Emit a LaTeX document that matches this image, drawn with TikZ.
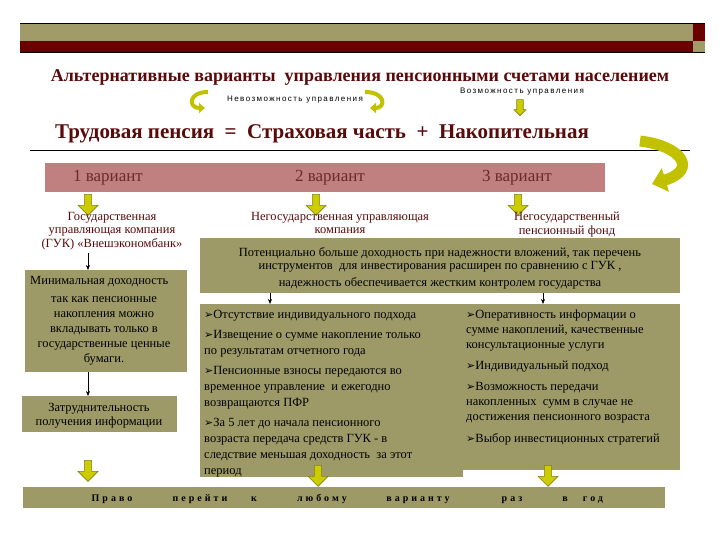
\documentclass[tikz,border=0pt]{standalone}
\usepackage{fontspec}
\setmainfont{Liberation Serif}
\newfontfamily\smallsans{Liberation Sans}
\newfontfamily\symfont{DejaVu Sans}
\usetikzlibrary{arrows.meta,shapes.arrows}
\newcommand\bul{{\symfont\fontsize{11}{11}\selectfont ➢}}
\definecolor{olivebox}{HTML}{9D9A68}
\definecolor{hdrolive}{HTML}{A19B6A}
\definecolor{hdrred}{HTML}{6B0000}
\definecolor{bandpink}{HTML}{C08080}
\definecolor{maroon}{HTML}{5A0A0A}
\definecolor{bandtxt}{HTML}{6A2A2A}
\definecolor{yfill}{HTML}{CCCC00}
\definecolor{ydraw}{HTML}{80801A}
\tikzset{
  box/.style={fill=olivebox, draw=none, anchor=north west, inner sep=0pt},
  btxt/.style={inner sep=0pt, font=\fontsize{12.5}{15}\selectfont},
  lbl/.style={text=maroon, align=center, font=\fontsize{12.5}{13.5}\selectfont, inner sep=0pt},
  yarr/.style={shape=single arrow, shape border rotate=270, fill=yfill, draw=ydraw, line width=0.6pt,
     minimum height=21pt, minimum width=20pt, single arrow head extend=4pt, single arrow head indent=0pt, inner sep=2pt},
  thinarr/.style={-{Stealth[length=5pt,width=4pt]}, line width=0.6pt},
  curv/.style={line width=4pt, color=yfill!85!olive, -{Triangle[length=6pt,width=10pt]}},
  bandword/.style={text=bandtxt, font=\fontsize{17}{19}\selectfont, inner sep=0pt},
  smalltxt/.style={font=\smallsans\fontsize{8}{9}\selectfont\addfontfeature{LetterSpace=18}, inner sep=0pt},
  bw/.style={font=\bfseries\fontsize{10}{11}\selectfont\addfontfeature{LetterSpace=30}, inner sep=0pt, anchor=base}
}
\begin{document}
\begin{tikzpicture}[x=1pt,y=-1pt]
\useasboundingbox (0,0) rectangle (720,540);
\fill[white] (0,0) rectangle (720,540);
% header bar
\fill[hdrolive] (20,23) rectangle (693,41);
\fill[hdrred] (20,41) rectangle (693,52);
\fill[hdrred] (693,23) rectangle (705,41);
\fill[hdrolive] (693,41) rectangle (705,52);
\draw[line width=0.8pt] (20,23) -- (705,23);
\draw[line width=0.8pt] (20,52) -- (705,52);
% title
\node[text=maroon, font=\bfseries\fontsize{18}{20}\selectfont, inner sep=0pt] (title) at (360,78)
  {Альтернативные варианты \ управления пенсионными счетами населением};
\node[smalltxt] (nevoz) at (295,100) {Невозможность управления};
\node[smalltxt] (voz) at (522,92) {Возможность управления};
\draw[curv] (208,92) .. controls (188,92) and (188,108) .. (205,108);
\draw[curv] (365,92) .. controls (386,92) and (386,108) .. (370,108);
\node[yarr, minimum height=16pt, minimum width=12pt, single arrow head extend=2pt] (varr) at (520,106) {};
% formula
\node[text=maroon, font=\bfseries\fontsize{21}{23}\selectfont, inner sep=0pt] (formula) at (322,134)
  {Трудовая пенсия \ = \ Страховая часть \ + \ Накопительная};
\draw[line width=0.8pt] (30,150) -- (690,150);
\draw[line width=11pt, color=yfill!85!olive, -{Triangle[length=14pt,width=24pt]}]
  (640,141) .. controls (682,146) and (698,170) .. (652,184);
% band
\node[fill=bandpink, anchor=north west, minimum width=560pt, minimum height=29pt, inner sep=0pt] (band) at (45,163) {};
\node[bandword] (v1) at (108,178) {1 вариант};
\node[bandword] (v2) at (330,178) {2 вариант};
\node[bandword] (v3) at (517,178) {3 вариант};
\node[yarr] (a1) at (88,203) {};
\node[yarr] (a2) at (316,203) {};
\node[yarr] (a3) at (518,203) {};
% labels
\node[lbl, anchor=north] (lab1) at (112,212) {Государственная\\управляющая компания\\(ГУК) «Внешэкономбанк»};
\node[lbl, anchor=north] (lab2) at (340,212) {Негосударственная управляющая\\компания};
\node[lbl, anchor=north] (lab3) at (567,212) {Негосударственный\\пенсионный фонд};
% left boxes
\node[box, minimum width=162pt, minimum height=102pt] (b1) at (25,270) {};
\node[btxt, anchor=north west] (b1t) at (30,276) {Минимальная доходность};
\node[btxt, anchor=north, align=center] (b1s) at (104,296)
  {так как пенсионные\\накопления можно\\вкладывать только в\\государственные ценные\\бумаги.};
\node[box, minimum width=155pt, minimum height=36pt] (b2) at (22,396) {};
\node[btxt, anchor=north, align=center, font=\fontsize{12.5}{14}\selectfont] (b2t) at (99,403)
  {Затруднительность\\получения информации};
\coordinate (c1) at (88,253);
\draw[thinarr] (c1) -- (b1.north -| c1);
\draw[thinarr] (b1.south -| c1) -- (b2.north -| c1);
% wide box
\node[box, minimum width=480pt, minimum height=55pt] (wide) at (200,238) {};
\node[btxt, anchor=north, align=center, font=\fontsize{12.5}{13}\selectfont] (widet) at (440,247)
  {Потенциально больше доходность при надежности вложений, так перечень\\
   инструментов \ для инвестирования расширен по сравнению с ГУК ,\\[4pt]
   надежность обеспечивается жестким контролем государства};
% middle and right boxes
\node[box, minimum width=263pt, minimum height=173pt] (mid) at (200,304) {};
\node[btxt, anchor=north west, align=left, font=\fontsize{12.5}{16}\selectfont] (midt) at (204,310)
  {\bul Отсутствие индивидуального подхода\\[4pt]
   \bul Извещение о сумме накопление только\\по результатам отчетного года\\[4pt]
   \bul Пенсионные взносы передаются во\\временное управление \ и ежегодно\\возвращаются ПФР\\[4pt]
   \bul За 5 лет до начала пенсионного\\возраста передача средств ГУК - в\\следствие меньшая доходность \ за этот\\период};
\node[box, minimum width=218pt, minimum height=166pt] (right) at (462,304) {};
\node[btxt, anchor=north west, align=left, font=\fontsize{12.5}{15}\selectfont] (rightt) at (466,310)
  {\bul Оперативность информации о\\сумме накоплений, качественные\\консультационные услуги\\[6pt]
   \bul Индивидуальный подход\\[6pt]
   \bul Возможность передачи\\накопленных \ сумм в случае не\\достижения пенсионного возраста\\[7pt]
   \bul Выбор инвестиционных стратегий};
\coordinate (c2) at (270,293);
\coordinate (c3) at (543,293);
\draw[thinarr] (wide.south -| c2) -- (mid.north -| c2);
\draw[thinarr] (wide.south -| c3) -- (right.north -| c3);
% bottom
\node[yarr] (d1) at (88,469) {};
\node[yarr] (d2) at (318,474) {};
\node[yarr] (d3) at (548,474) {};
\node[fill=olivebox, anchor=north west, minimum width=642pt, minimum height=21pt, inner sep=0pt] (bottom) at (23,487) {};
\node[bw] (w1) at (112,501) {Право};
\node[bw] (w2) at (200,501) {перейти};
\node[bw] (w3) at (254,501) {к};
\node[bw] (w4) at (322,501) {любому};
\node[bw] (w5) at (418,501) {варианту};
\node[bw] (w6) at (512,501) {раз};
\node[bw] (w7) at (565,501) {в};
\node[bw] (w8) at (593,501) {год};
\end{tikzpicture}
\end{document}
